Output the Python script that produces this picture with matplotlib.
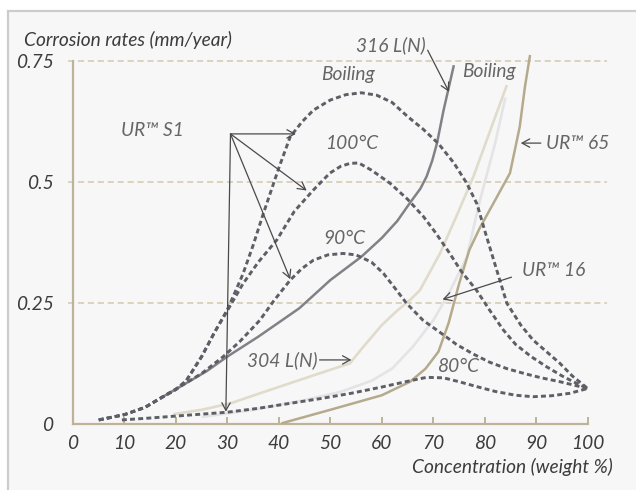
import matplotlib
matplotlib.use("Agg")
import matplotlib.pyplot as plt
from matplotlib.patches import Rectangle

# ---------------- data ----------------
boil_x = [5, 10, 14, 17, 20, 22, 25, 27.5, 30, 33, 35, 37, 40, 42.2, 44.5, 46.7, 50, 53, 56,
          59, 62, 65, 68, 71, 74, 76.5, 78.5, 80, 82, 84.3, 87, 89.4, 92, 94.6, 97, 100]
boil_y = [0.009, 0.02, 0.035, 0.054, 0.072, 0.09, 0.14, 0.19, 0.237, 0.31, 0.37, 0.436, 0.53,
          0.594, 0.625, 0.649, 0.670, 0.681, 0.685, 0.680, 0.665, 0.636, 0.610, 0.580, 0.540,
          0.498, 0.455, 0.40, 0.33, 0.25, 0.205, 0.174, 0.150, 0.126, 0.10, 0.074]

c100_x = [5, 10, 14, 17, 20, 22, 25, 27.5, 30, 33, 36, 39.6, 43, 46.7, 49.9, 52, 53.8, 55.5,
          58, 61.6, 65, 68.1, 70.5, 73.2, 75.5, 78.4, 81, 83.6, 86, 89, 92, 95, 97.2, 100]
c100_y = [0.009, 0.02, 0.035, 0.054, 0.072, 0.09, 0.14, 0.19, 0.235, 0.29, 0.335, 0.381, 0.44,
          0.484, 0.519, 0.533, 0.539, 0.540, 0.525, 0.498, 0.465, 0.429, 0.395, 0.353, 0.315,
          0.277, 0.235, 0.195, 0.165, 0.140, 0.119, 0.100, 0.088, 0.074]

c90_x = [5, 10, 14, 17, 20.8, 25, 29.1, 32.5, 36.3, 39, 42.2, 44.5, 46.7, 49.5, 52.5, 55, 58,
         60.3, 62.5, 64.8, 68, 71.3, 74.5, 77.8, 81, 84.3, 88, 91, 94.6, 100]
c90_y = [0.009, 0.02, 0.035, 0.054, 0.078, 0.105, 0.139, 0.172, 0.215, 0.255, 0.298, 0.322,
         0.339, 0.350, 0.353, 0.350, 0.335, 0.312, 0.282, 0.25, 0.215, 0.19, 0.165, 0.145,
         0.128, 0.115, 0.104, 0.096, 0.088, 0.074]

c80_x = [9.5, 15, 20, 25, 30, 36, 42, 48, 54, 60, 65.5, 68.7, 72, 75, 78.4, 82, 86, 89.4,
         93, 96.5, 100]
c80_y = [0.009, 0.013, 0.017, 0.021, 0.025, 0.033, 0.043, 0.053, 0.064, 0.077, 0.09, 0.097,
         0.096, 0.088, 0.078, 0.068, 0.060, 0.057, 0.059, 0.064, 0.074]

l316_x = [17, 22, 26, 30, 36, 44, 50, 56, 60, 63, 65.5, 67.5, 68.7, 69.8, 70.7, 72, 74]
l316_y = [0.054, 0.085, 0.11, 0.14, 0.181, 0.24, 0.298, 0.346, 0.385, 0.42, 0.458, 0.487,
          0.512, 0.545, 0.58, 0.649, 0.742]

l304_x = [19.5, 25, 30.5, 36.3, 45, 53.8, 56.4, 60, 63, 65.5, 67.4, 71.3, 74.5, 77.8, 81, 84.3]
l304_y = [0.021, 0.03, 0.043, 0.064, 0.095, 0.126, 0.16, 0.205, 0.235, 0.257, 0.277, 0.353,
          0.43, 0.512, 0.605, 0.701]

ur16_x = [25, 35, 45, 52, 58, 62, 66, 70, 73, 76.5, 79, 82, 84]
ur16_y = [0.015, 0.03, 0.05, 0.067, 0.09, 0.115, 0.16, 0.215, 0.27, 0.345, 0.46, 0.58, 0.675]

ur65_x = [40.5, 50, 60, 65.5, 68.5, 71, 73, 75, 77, 79, 81.7, 84.9, 86.8, 87.8, 88.8]
ur65_y = [0.002, 0.03, 0.06, 0.088, 0.115, 0.15, 0.21, 0.29, 0.36, 0.405, 0.457, 0.519,
          0.615, 0.697, 0.763]

x_ticks = [0, 10, 20, 30, 40, 50, 60, 70, 80, 90, 100]
y_ticks = [0, 0.25, 0.5, 0.75]
y_tick_labels = ["0", "0.25", "0.5", "0.75"]

# ---------------- style ----------------
FONT = "Lato"
FW = "normal"
FS = 13.8
TXT = "#3c3c3c"
ANN = "#666666"
TAN = "#bdb398"
GRID = "#d2c9ad"
DASH = "#5e5f66"

fig = plt.figure(figsize=(6.36, 4.9), dpi=100)
fig.patch.set_facecolor("white")
fig.patches.append(Rectangle((8 / 636, -0.1), 1.2, 1 - 10.5 / 490 + 0.1,
                             transform=fig.transFigure, facecolor="#f7f7f7",
                             edgecolor="#cccccc", linewidth=1.6, zorder=-10))

W, H = 636, 490
x0_px, xs = 73, 5.147
y0_px, ys = 424.3, 484
xmin, xmax = 0, 104
ymin, ymax = 0, 0.8
ax = fig.add_axes([x0_px / W, (H - y0_px) / H, (xmax - xmin) * xs / W, (ymax - ymin) * ys / H])
ax.set_xlim(xmin, xmax)
ax.set_ylim(ymin, ymax)
ax.patch.set_alpha(0)

for s in ["top", "right"]:
    ax.spines[s].set_visible(False)
for s in ["left", "bottom"]:
    ax.spines[s].set_color(TAN)
    ax.spines[s].set_linewidth(1.6)
ax.spines["left"].set_bounds(0, 0.75)
ax.spines["bottom"].set_bounds(0, 100)

ax.set_xticks(x_ticks)
ax.set_xticklabels([str(v) for v in x_ticks])
ax.set_yticks(y_ticks)
ax.set_yticklabels(y_tick_labels)
ax.tick_params(axis="x", direction="in", length=5, width=1.4, color=TAN, pad=8,
               labelsize=FS, labelcolor=TXT)
ax.tick_params(axis="y", length=0, pad=14, labelsize=FS, labelcolor=TXT)
for lab in ax.get_xticklabels() + ax.get_yticklabels():
    lab.set_fontfamily(FONT)
    lab.set_fontstyle("italic")
    lab.set_fontweight(FW)

# grid lines
for yv in y_ticks[1:]:
    ax.plot([-1, 103.7], [yv, yv], color=GRID, lw=1.1, ls=(0, (4, 2.5)), clip_on=False, zorder=1)

# curves
ax.plot(ur16_x, ur16_y, color="#e4e4e6", lw=1.9, zorder=2, solid_capstyle="butt")
ax.plot(l304_x, l304_y, color="#e0dbca", lw=1.9, zorder=2, solid_capstyle="butt")
ax.plot(ur65_x, ur65_y, color="#b5aa8c", lw=1.8, zorder=3, solid_capstyle="butt")
ax.plot(l316_x, l316_y, color="#818188", lw=1.8, zorder=3, solid_capstyle="butt")
dash = (0, (1.7, 1.1))
for xs_, ys_ in [(boil_x, boil_y), (c100_x, c100_y), (c90_x, c90_y), (c80_x, c80_y)]:
    ax.plot(xs_, ys_, color=DASH, lw=2.1, ls=dash, zorder=4)

# annotations
tk = dict(fontfamily=FONT, fontstyle="italic", fontweight=FW, fontsize=FS, color=ANN)
ax.text(-9.5, 0.794, "Corrosion rates (mm/year)", ha="left", va="center", clip_on=False,
        fontfamily=FONT, fontstyle="italic", fontweight=FW, fontsize=FS, color=TXT)
ax.text(104.9, -0.0876, "Concentration (weight %)", ha="right", va="center", clip_on=False,
        fontfamily=FONT, fontstyle="italic", fontweight=FW, fontsize=FS, color=TXT)

ax.text(68.6, 0.784, "316 L(N)", ha="right", va="center", **tk)
ax.text(53.5, 0.722, "Boiling", ha="center", va="center", **tk)
ax.text(80.9, 0.729, "Boiling", ha="center", va="center", **tk)
ax.text(54.1, 0.581, "100°C", ha="center", va="center", **tk)
ax.text(52.8, 0.384, "90°C", ha="center", va="center", **tk)
ax.text(74.9, 0.120, "80°C", ha="center", va="center", **tk)
ax.text(91.9, 0.581, "UR™ 65", ha="left", va="center", **tk)
ax.text(87.2, 0.317, "UR™ 16", ha="left", va="center", **tk)
ax.text(47.6, 0.133, "304 L(N)", ha="right", va="center", **tk)
ax.text(15.5, 0.608, "UR™ S1", ha="center", va="center", **tk)

ap = dict(arrowstyle="->,head_length=0.55,head_width=0.3", color="#4a4a4a", lw=0.9,
          shrinkA=0, shrinkB=0)
ax.annotate("", xy=(73.05, 0.687), xytext=(68.9, 0.773), arrowprops=ap, zorder=5)
ax.annotate("", xy=(87.0, 0.581), xytext=(90.9, 0.581), arrowprops=ap, zorder=5)
ax.annotate("", xy=(71.8, 0.258), xytext=(85.2, 0.304), arrowprops=ap, zorder=5)
ax.annotate("", xy=(54.1, 0.133), xytext=(47.9, 0.133), arrowprops=ap, zorder=5)
s1 = (30.6, 0.6)
for tgt in [(43.3, 0.6), (45.4, 0.483), (42.2, 0.30), (29.7, 0.026)]:
    ax.annotate("", xy=tgt, xytext=s1, arrowprops=ap, zorder=5)

fig.savefig("out.png", dpi=100, facecolor=fig.get_facecolor())
